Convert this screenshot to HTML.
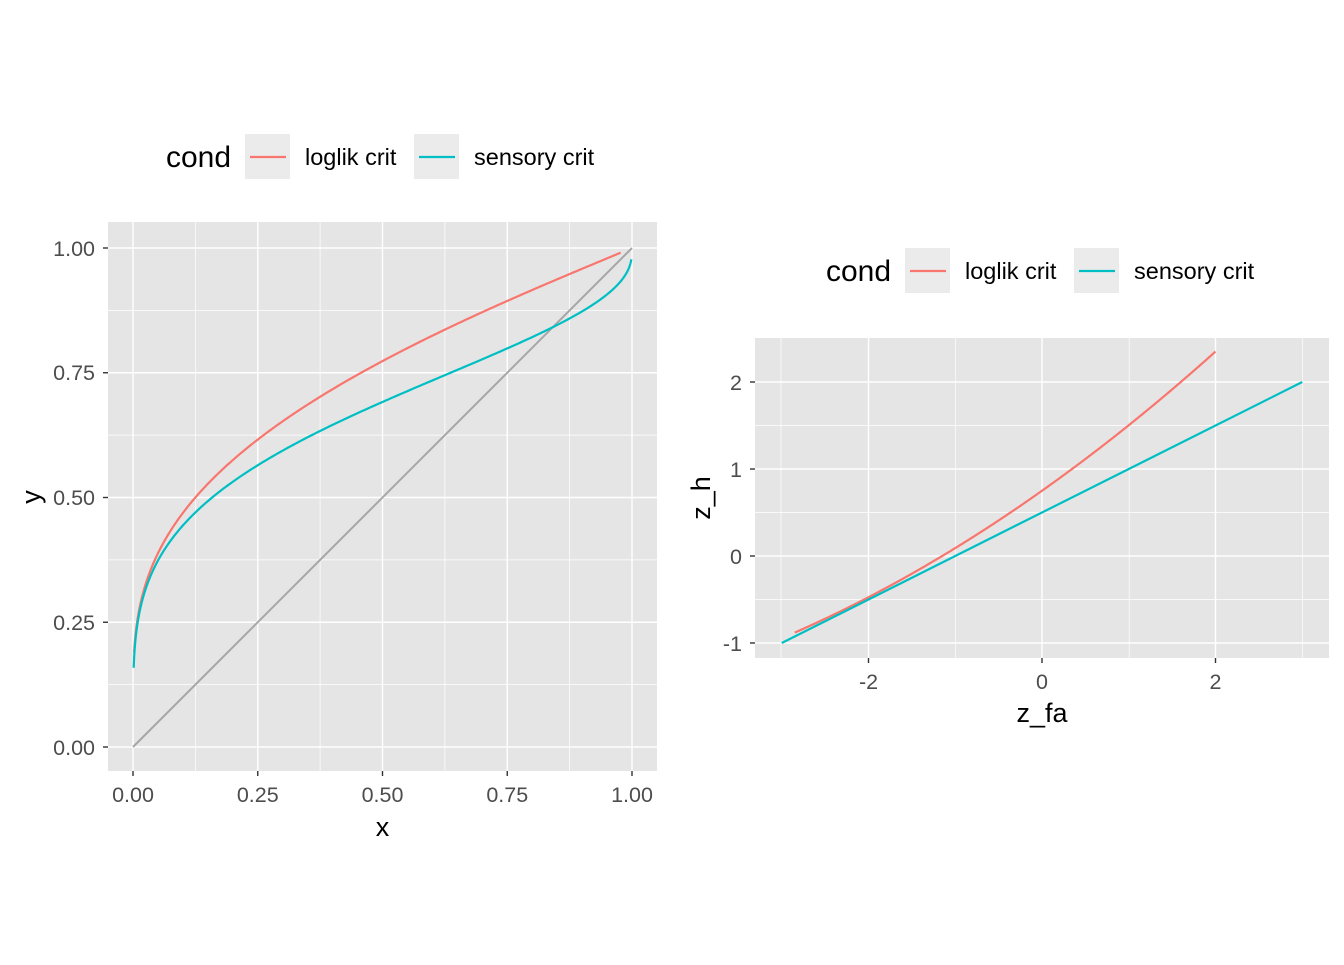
<!DOCTYPE html>
<html><head><meta charset="utf-8"><style>
html,body{margin:0;padding:0;background:#fff;}
svg text{font-family:"Liberation Sans",Arial,sans-serif;}
</style></head><body>
<svg id="s" width="1344" height="960" xmlns="http://www.w3.org/2000/svg">
<rect width="1344" height="960" fill="#fff"/>
<rect x="108" y="222" width="549" height="549" fill="#e5e5e5"/>
<g stroke="#fff" stroke-width="0.7">
<line x1="195.4" y1="222" x2="195.4" y2="771"/><line x1="320.1" y1="222" x2="320.1" y2="771"/><line x1="444.9" y1="222" x2="444.9" y2="771"/><line x1="569.6" y1="222" x2="569.6" y2="771"/>
<line x1="108" y1="684.6" x2="657" y2="684.6"/><line x1="108" y1="559.9" x2="657" y2="559.9"/><line x1="108" y1="435.1" x2="657" y2="435.1"/><line x1="108" y1="310.4" x2="657" y2="310.4"/>
</g>
<g stroke="#fff" stroke-width="1.4">
<line x1="133" y1="222" x2="133" y2="771"/><line x1="257.75" y1="222" x2="257.75" y2="771"/><line x1="382.5" y1="222" x2="382.5" y2="771"/><line x1="507.25" y1="222" x2="507.25" y2="771"/><line x1="632" y1="222" x2="632" y2="771"/>
<line x1="108" y1="747" x2="657" y2="747"/><line x1="108" y1="622.25" x2="657" y2="622.25"/><line x1="108" y1="497.5" x2="657" y2="497.5"/><line x1="108" y1="372.75" x2="657" y2="372.75"/><line x1="108" y1="248" x2="657" y2="248"/>
</g>
<g stroke="#333" stroke-width="1.4">
<line x1="133" y1="771" x2="133" y2="776"/><line x1="257.75" y1="771" x2="257.75" y2="776"/><line x1="382.5" y1="771" x2="382.5" y2="776"/><line x1="507.25" y1="771" x2="507.25" y2="776"/><line x1="632" y1="771" x2="632" y2="776"/>
<line x1="103" y1="747" x2="108" y2="747"/><line x1="103" y1="622.25" x2="108" y2="622.25"/><line x1="103" y1="497.5" x2="108" y2="497.5"/><line x1="103" y1="372.75" x2="108" y2="372.75"/><line x1="103" y1="248" x2="108" y2="248"/>
</g>
<g fill="#4d4d4d" font-size="21.5" text-anchor="middle">
<text x="133" y="802">0.00</text><text x="257.75" y="802">0.25</text><text x="382.5" y="802">0.50</text><text x="507.25" y="802">0.75</text><text x="632" y="802">1.00</text>
</g>
<g fill="#4d4d4d" font-size="21.5" text-anchor="end">
<text x="95" y="755">0.00</text><text x="95" y="630">0.25</text><text x="95" y="505">0.50</text><text x="95" y="380">0.75</text><text x="95" y="256">1.00</text>
</g>
<text x="382.5" y="836" font-size="27" text-anchor="middle">x</text>
<text x="40" y="497" font-size="27" text-anchor="middle" transform="rotate(-90 40 497)">y</text>
<line x1="133" y1="747" x2="632" y2="248" stroke="#a6a6a6" stroke-width="2"/>
<path id="l1" fill="none" stroke="#f8766d" stroke-width="2.2"/>
<path id="l2" fill="none" stroke="#00bfc4" stroke-width="2.2"/>
<text x="166" y="167" font-size="30">cond</text>
<rect x="245" y="134" width="45" height="45" fill="#ebebeb"/>
<line x1="250" y1="157" x2="286" y2="157" stroke="#f8766d" stroke-width="2.2"/>
<text x="305" y="165" font-size="23.5">loglik crit</text>
<rect x="414" y="134" width="45" height="45" fill="#ebebeb"/>
<line x1="419" y1="157" x2="455" y2="157" stroke="#00bfc4" stroke-width="2.2"/>
<text x="474" y="165" font-size="23.5">sensory crit</text>
<rect x="755" y="338" width="574" height="320" fill="#e5e5e5"/>
<g stroke="#fff" stroke-width="0.7">
<line x1="781" y1="338" x2="781" y2="658"/><line x1="955.3" y1="338" x2="955.3" y2="658"/><line x1="1129.2" y1="338" x2="1129.2" y2="658"/><line x1="1302.7" y1="338" x2="1302.7" y2="658"/>
<line x1="755" y1="599.5" x2="1329" y2="599.5"/><line x1="755" y1="512.5" x2="1329" y2="512.5"/><line x1="755" y1="425.5" x2="1329" y2="425.5"/>
</g>
<g stroke="#fff" stroke-width="1.4">
<line x1="868.5" y1="338" x2="868.5" y2="658"/><line x1="1042" y1="338" x2="1042" y2="658"/><line x1="1215.5" y1="338" x2="1215.5" y2="658"/>
<line x1="755" y1="643" x2="1329" y2="643"/><line x1="755" y1="556" x2="1329" y2="556"/><line x1="755" y1="469" x2="1329" y2="469"/><line x1="755" y1="382" x2="1329" y2="382"/>
</g>
<g stroke="#333" stroke-width="1.4">
<line x1="868.5" y1="658" x2="868.5" y2="663"/><line x1="1042" y1="658" x2="1042" y2="663"/><line x1="1215.5" y1="658" x2="1215.5" y2="663"/>
<line x1="750" y1="643" x2="755" y2="643"/><line x1="750" y1="556" x2="755" y2="556"/><line x1="750" y1="469" x2="755" y2="469"/><line x1="750" y1="382" x2="755" y2="382"/>
</g>
<g fill="#4d4d4d" font-size="21.5" text-anchor="middle">
<text x="868.5" y="689">-2</text><text x="1042" y="689">0</text><text x="1215.5" y="689">2</text>
</g>
<g fill="#4d4d4d" font-size="21.5" text-anchor="end">
<text x="742" y="651">-1</text><text x="742" y="564">0</text><text x="742" y="477">1</text><text x="742" y="390">2</text>
</g>
<text x="1042" y="722" font-size="27" text-anchor="middle">z_fa</text>
<text x="710" y="498" font-size="27" text-anchor="middle" transform="rotate(-90 710 498)">z_h</text>
<path id="r1" fill="none" stroke="#f8766d" stroke-width="2.2"/>
<line x1="781.75" y1="643" x2="1302.25" y2="382" stroke="#00bfc4" stroke-width="2.2"/>
<text x="826" y="281" font-size="30">cond</text>
<rect x="905" y="248" width="45" height="45" fill="#ebebeb"/>
<line x1="910" y1="271" x2="946" y2="271" stroke="#f8766d" stroke-width="2.2"/>
<text x="965" y="279" font-size="23.5">loglik crit</text>
<rect x="1074" y="248" width="45" height="45" fill="#ebebeb"/>
<line x1="1079" y1="271" x2="1115" y2="271" stroke="#00bfc4" stroke-width="2.2"/>
<text x="1134" y="279" font-size="23.5">sensory crit</text>
</svg>
<script>
function erf(x){var s=x<0?-1:1;x=Math.abs(x);var t=1/(1+0.3275911*x);var y=1-(((((1.061405429*t-1.453152027)*t)+1.421413741)*t-0.284496736)*t+0.254829592)*t*Math.exp(-x*x);return s*y;}
function Phi(z){return 0.5*(1+erf(z/Math.SQRT2));}
function ll(z){return 0.75+0.706*z+0.047*z*z;}
function sc(z){return 0.5+0.5*z;}
var a="",b="",c="";
for(var i=0;i<=400;i++){
 var z=-2.85+(2+2.85)*i/400, h=ll(z);
 a+=(i?"L":"M")+(133+499*Phi(z)).toFixed(2)+","+(747-499*Phi(h)).toFixed(2);
 c+=(i?"L":"M")+(1042+86.75*z).toFixed(2)+","+(556-87*h).toFixed(2);
 var z2=-3+6*i/400;
 b+=(i?"L":"M")+(133+499*Phi(z2)).toFixed(2)+","+(747-499*Phi(sc(z2))).toFixed(2);
}
document.getElementById("l1").setAttribute("d",a);
document.getElementById("l2").setAttribute("d",b);
document.getElementById("r1").setAttribute("d",c);
</script>
</body></html>
